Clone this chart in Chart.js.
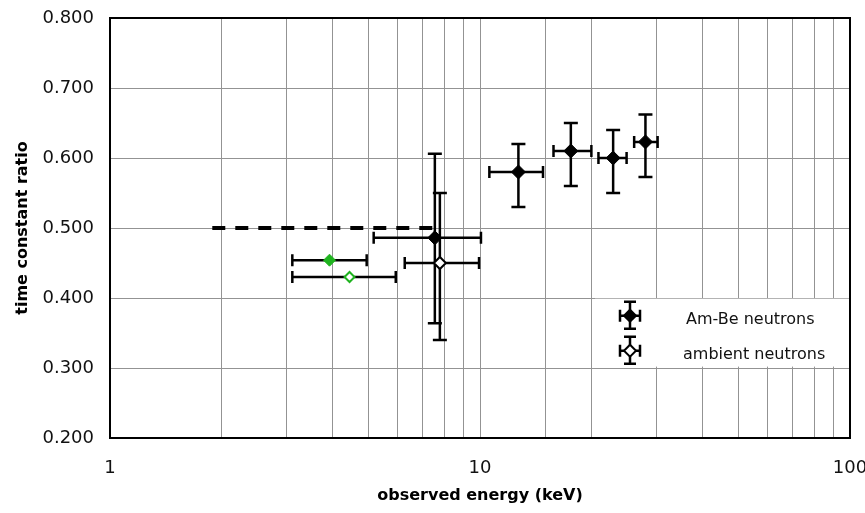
<!DOCTYPE html>
<html>
<head>
<meta charset="utf-8">
<script src="https://cdn.jsdelivr.net/npm/chart.js@4.4.0/dist/chart.umd.min.js"></script>
<style>
  html, body { margin: 0; padding: 0; background: #fff; }
  #wrap { width: 865px; height: 513px; }
</style>
</head>
<body>
<div id="wrap"><canvas id="myChart" width="865" height="513"></canvas></div>
<script>
// Am-Be neutrons (filled diamonds)
const amBeEnergy = [7.55, 12.7, 17.6, 22.9, 28.0];
const amBeRatio = [0.486, 0.580, 0.610, 0.600, 0.623];
const amBeEnergyLow = [5.16, 10.6, 15.8, 20.9, 26.1];
const amBeEnergyHigh = [10.06, 14.8, 20.0, 24.9, 30.2];
const amBeRatioLow = [0.364, 0.530, 0.560, 0.550, 0.573];
const amBeRatioHigh = [0.606, 0.620, 0.650, 0.640, 0.662];

// ambient neutrons (open diamonds)
const ambEnergy = [7.79];
const ambRatio = [0.450];
const ambEnergyLow = [6.26];
const ambEnergyHigh = [9.94];
const ambRatioLow = [0.340];
const ambRatioHigh = [0.550];

// green points
const greenFilledEnergy = [3.92];
const greenFilledRatio = [0.454];
const greenFilledEnergyLow = [3.11];
const greenFilledEnergyHigh = [4.94];
const greenOpenEnergy = [4.44];
const greenOpenRatio = [0.430];
const greenOpenEnergyLow = [3.11];
const greenOpenEnergyHigh = [5.92];

// dashed reference line
const dashEnergy = [1.89, 7.55];
const dashRatio = [0.500, 0.500];

const xTickLabels = [1, 10, 100];
const yTicks = [0.2, 0.3, 0.4, 0.5, 0.6, 0.7, 0.8];

const GREEN = '#1fb31f';
const FONT = "'DejaVu Sans', Verdana, sans-serif";

function pts(xs, ys, lo, hi, ylo, yhi) {
    return xs.map((x, i) => ({
        x: x, y: ys[i],
        xMin: lo ? lo[i] : null, xMax: hi ? hi[i] : null,
        yMin: ylo ? ylo[i] : null, yMax: yhi ? yhi[i] : null
    }));
}

const errorBars = {
    id: 'errorBars',
    beforeDatasetsDraw(chart) {
        const ctx = chart.ctx;
        const xs = chart.scales.x, ys = chart.scales.y;
        const ca = chart.chartArea;

        // legend box (covers grid)
        const bx = ca.right - 255, by = ys.getPixelForValue(0.399);
        const bw = ca.right - bx, bh = ys.getPixelForValue(0.302) - by;
        ctx.save();
        ctx.fillStyle = '#fff';
        ctx.fillRect(bx, by, bw, bh);
        ctx.restore();

        chart.data.datasets.forEach((ds) => {
            if (!ds.errorBars) return;
            ctx.save();
            ctx.strokeStyle = '#000';
            ctx.lineWidth = 2.5;
            ds.data.forEach(p => {
                const px = xs.getPixelForValue(p.x);
                const py = ys.getPixelForValue(p.y);
                ctx.beginPath();
                if (p.xMin != null) {
                    const x1 = xs.getPixelForValue(p.xMin), x2 = xs.getPixelForValue(p.xMax);
                    ctx.moveTo(x1, py); ctx.lineTo(x2, py);
                    ctx.moveTo(x1, py - 6); ctx.lineTo(x1, py + 6);
                    ctx.moveTo(x2, py - 6); ctx.lineTo(x2, py + 6);
                }
                if (p.yMin != null) {
                    const y1 = ys.getPixelForValue(p.yMin), y2 = ys.getPixelForValue(p.yMax);
                    ctx.moveTo(px, y1); ctx.lineTo(px, y2);
                    ctx.moveTo(px - 7, y1); ctx.lineTo(px + 7, y1);
                    ctx.moveTo(px - 7, y2); ctx.lineTo(px + 7, y2);
                }
                ctx.stroke();
            });
            ctx.restore();
        });

        // legend entries
        ctx.save();
        const lx = bx + 35;
        const rows = [
            { y: by + 17, fill: '#000', text: 'Am-Be neutrons', tx: bx + 91 },
            { y: by + 52, fill: '#fff', text: 'ambient neutrons', tx: bx + 88 }
        ];
        rows.forEach(r => {
            ctx.strokeStyle = '#000';
            ctx.lineWidth = 2.5;
            ctx.beginPath();
            ctx.moveTo(lx, r.y - 14); ctx.lineTo(lx, r.y + 13);
            ctx.moveTo(lx - 6, r.y - 14); ctx.lineTo(lx + 6, r.y - 14);
            ctx.moveTo(lx - 6, r.y + 13); ctx.lineTo(lx + 6, r.y + 13);
            ctx.moveTo(lx - 10, r.y); ctx.lineTo(lx + 10, r.y);
            ctx.moveTo(lx - 10, r.y - 6); ctx.lineTo(lx - 10, r.y + 6);
            ctx.moveTo(lx + 10, r.y - 6); ctx.lineTo(lx + 10, r.y + 6);
            ctx.stroke();
            ctx.lineWidth = 2;
            ctx.beginPath();
            ctx.moveTo(lx, r.y - 6); ctx.lineTo(lx + 6, r.y); ctx.lineTo(lx, r.y + 6); ctx.lineTo(lx - 6, r.y);
            ctx.closePath();
            ctx.fillStyle = r.fill;
            ctx.fill();
            ctx.stroke();
            ctx.fillStyle = '#111';
            ctx.font = '16px ' + FONT;
            ctx.textBaseline = 'middle';
            ctx.fillText(r.text, r.tx, r.y + 4);
        });
        ctx.restore();
    },
    afterDraw(chart) {
        const ctx = chart.ctx, ca = chart.chartArea;
        ctx.save();
        ctx.strokeStyle = '#000';
        ctx.lineWidth = 2;
        ctx.strokeRect(ca.left, ca.top, ca.right - ca.left, ca.bottom - ca.top);
        ctx.restore();
    }
};

var ctx = document.getElementById('myChart').getContext('2d');
var myChart = new Chart(ctx, { //eslint-disable-line
    type: 'scatter',
    data: {
        datasets: [
            {
                label: 'dashed',
                data: pts(dashEnergy, dashRatio),
                showLine: true,
                borderColor: '#000',
                borderWidth: 4,
                borderDash: [13, 10],
                pointRadius: 0
            },
            {
                label: 'Am-Be neutrons',
                data: pts(amBeEnergy, amBeRatio, amBeEnergyLow, amBeEnergyHigh, amBeRatioLow, amBeRatioHigh),
                errorBars: true,
                pointStyle: 'rectRot',
                pointRadius: 7,
                backgroundColor: '#000',
                borderColor: '#000',
                borderWidth: 1
            },
            {
                label: 'ambient neutrons',
                data: pts(ambEnergy, ambRatio, ambEnergyLow, ambEnergyHigh, ambRatioLow, ambRatioHigh),
                errorBars: true,
                pointStyle: 'rectRot',
                pointRadius: 6,
                backgroundColor: '#fff',
                borderColor: '#000',
                borderWidth: 2
            },
            {
                label: 'green filled',
                data: pts(greenFilledEnergy, greenFilledRatio, greenFilledEnergyLow, greenFilledEnergyHigh),
                errorBars: true,
                pointStyle: 'rectRot',
                pointRadius: 6,
                backgroundColor: GREEN,
                borderColor: GREEN,
                borderWidth: 1
            },
            {
                label: 'green open',
                data: pts(greenOpenEnergy, greenOpenRatio, greenOpenEnergyLow, greenOpenEnergyHigh),
                errorBars: true,
                pointStyle: 'rectRot',
                pointRadius: 5,
                backgroundColor: '#fff',
                borderColor: GREEN,
                borderWidth: 2
            }
        ]
    },
    options: {
        responsive: false,
        animation: false,
        layout: { padding: { top: 18, right: 15, left: 13, bottom: 8 } },
        plugins: { legend: { display: false }, tooltip: { enabled: false } },
        scales: {
            x: {
                type: 'logarithmic',
                min: 1,
                max: 100,
                afterFit: (scale) => { scale.paddingRight = 0; scale.paddingLeft = 0; scale.height = 67; },
                grid: { color: '#939393', lineWidth: 1, drawTicks: false },
                border: { color: '#000', width: 2 },
                ticks: {
                    autoSkip: false,
                    maxRotation: 0,
                    padding: 20,
                    color: '#111',
                    font: { family: FONT, size: 18 },
                    callback: (v) => xTickLabels.includes(v) ? String(v) : ''
                },
                title: {
                    display: true,
                    text: 'observed energy (keV)',
                    color: '#000',
                    font: { family: FONT, size: 16, weight: 'bold' },
                    padding: { top: 2, bottom: 0 }
                }
            },
            y: {
                min: 0.2,
                max: 0.8,
                afterBuildTicks: (scale) => { scale.ticks = yTicks.map(v => ({ value: v })); },
                afterFit: (scale) => { scale.paddingTop = 0; scale.paddingBottom = 0; scale.width = 97; },
                grid: { color: '#939393', lineWidth: 1, drawTicks: false },
                border: { color: '#000', width: 2 },
                ticks: {
                    padding: 16,
                    color: '#111',
                    font: { family: FONT, size: 18 },
                    callback: (v) => v.toFixed(3)
                },
                title: {
                    display: true,
                    text: 'time constant ratio',
                    color: '#000',
                    font: { family: FONT, size: 16, weight: 'bold' },
                    padding: { top: 0, bottom: 11 }
                }
            }
        }
    },
    plugins: [errorBars]
});
</script>
</body>
</html>
